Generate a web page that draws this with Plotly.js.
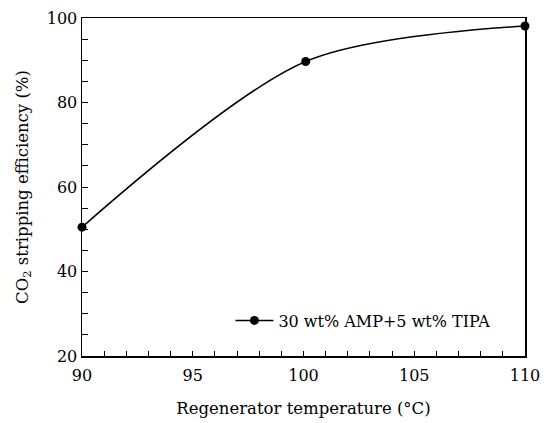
<!DOCTYPE html>
<html>
<head>
<meta charset="utf-8">
<script src="https://cdn.plot.ly/plotly-3.0.1.min.js"></script>
<style>html,body{margin:0;padding:0;background:#fff;}#chart{width:550px;height:423px;}</style>
</head>
<body>
<div id="chart"></div>
<script>
const temperature = [90, 100.1, 110];
const efficiency = [50.5, 89.7, 98.1];
const seriesName = "30 wt% AMP+5 wt% TIPA";
const xTicks = [90, 95, 100, 105, 110];
const yTicks = [20, 40, 60, 80, 100];

const font = "DejaVu Serif";
const trace = {
  x: temperature, y: efficiency, name: seriesName,
  mode: "lines+markers", type: "scatter", cliponaxis: false,
  line: {color: "#000", width: 1.5, shape: "spline", smoothing: 0.85},
  marker: {color: "#000", size: 9}
};
const layout = {
  width: 550, height: 423,
  margin: {l: 82, r: 25, t: 18, b: 67},
  paper_bgcolor: "#fff", plot_bgcolor: "#fff",
  font: {family: font, color: "#000", size: 15},
  showlegend: true,
  legend: {x: 0.335, y: 0.105, xanchor: "left", yanchor: "middle", itemwidth: 38, bgcolor: "rgba(0,0,0,0)", font: {size: 16, family: font}},
  xaxis: {
    range: [90, 110], tickmode: "array", tickvals: xTicks, ticktext: xTicks.map(String),
    ticks: "inside", ticklen: 5, tickwidth: 1, tickcolor: "#000",
    minor: {dtick: 1, ticks: "inside", ticklen: 5, tickcolor: "#000"},
    showline: true, linecolor: "#000", linewidth: 1.5, mirror: true,
    showgrid: false, zeroline: false, ticklabelstandoff: 4,
    tickfont: {size: 16, family: font},
    title: {text: "Regenerator temperature (°C)", font: {size: 16.5, family: font}, standoff: 18}
  },
  yaxis: {
    range: [20, 100], tickmode: "array", tickvals: yTicks, ticktext: yTicks.map(String),
    ticks: "inside", ticklen: 6, tickwidth: 1, tickcolor: "#000",
    minor: {dtick: 5, ticks: "inside", ticklen: 6, tickcolor: "#000"},
    showline: true, linecolor: "#000", linewidth: 1.5, mirror: true,
    showgrid: false, zeroline: false,
    tickfont: {size: 16, family: font},
    title: {text: "CO<sub>2</sub> stripping efficiency (%)", font: {size: 16.5, family: font}, standoff: 14}
  }
};
Plotly.newPlot("chart", [trace], layout, {displayModeBar: false, staticPlot: true});
</script>
</body>
</html>
